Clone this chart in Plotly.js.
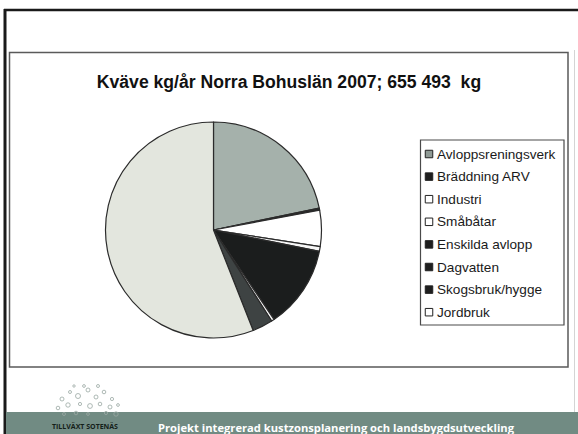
<!DOCTYPE html>
<html>
<head>
<meta charset="utf-8">
<script src="https://cdn.plot.ly/plotly-3.0.1.min.js"></script>
<style>
  html, body { margin: 0; padding: 0; background: #ffffff; }
  #chart { width: 578px; height: 434px; }
</style>
</head>
<body>
<div id="chart"></div>
<script>
// ---- data ----
const categories = ["Avloppsreningsverk", "Bräddning ARV", "Industri", "Småbåtar",
                    "Enskilda avlopp", "Dagvatten", "Skogsbruk/hygge", "Jordbruk"];
const valuesKg = [142600, 2000, 35400, 4700, 81000, 2750, 20050, 366993];
const sliceColors = ["#a5b1ab", "#262828", "#ffffff", "#f6f6f6",
                     "#1b1d1d", "#f2f2f2", "#3e4343", "#e3e6de"];
const legendColors = ["#8f9a95", "#1e1e1e", "#ffffff", "#ffffff",
                      "#1e1e1e", "#1e1e1e", "#1e1e1e", "#ffffff"];
const titleText = "Kväve kg/år Norra Bohuslän 2007; 655 493  kg";
const footerText = "Projekt integrerad kustzonsplanering och landsbygdsutveckling";
const logoText = "TILLVÄXT SOTENÄS";

// ---- layout helpers ----
const W = 578, H = 434;
const px = x => x / W;
const py = y => 1 - y / H;

const cx = 213.5, cy = 230, r = 108;

const pie = {
  type: "pie",
  labels: categories,
  values: valuesKg,
  sort: false,
  direction: "clockwise",
  rotation: 0,
  textinfo: "none",
  hoverinfo: "label+value+percent",
  showlegend: false,
  marker: { colors: sliceColors, line: { color: "#2b2b2b", width: 1.2 } },
  domain: { x: [px(cx - r), px(cx + r)], y: [py(cy + r), py(cy - r)] }
};

const shapes = [];
const annotations = [];

// outer slide frame
shapes.push({ type: "line", xref: "paper", yref: "paper", x0: px(5), x1: px(5), y0: py(9), y1: py(434),
  line: { color: "#1a1a1a", width: 3 } });
shapes.push({ type: "line", xref: "paper", yref: "paper", x0: px(4), x1: px(578), y0: py(10), y1: py(10),
  line: { color: "#1a1a1a", width: 2.5 } });
shapes.push({ type: "line", xref: "paper", yref: "paper", x0: px(574.5), x1: px(574.5), y0: py(50), y1: py(412),
  line: { color: "#d4d4d4", width: 1 } });

// chart area box
shapes.push({ type: "rect", xref: "paper", yref: "paper", x0: px(9.5), x1: px(568), y0: py(367), y1: py(52.5),
  line: { color: "#5a5a5a", width: 1.5 }, fillcolor: "rgba(0,0,0,0)" });

// legend box
shapes.push({ type: "rect", xref: "paper", yref: "paper", x0: px(420.5), x1: px(564), y0: py(325), y1: py(140),
  line: { color: "#4a4a4a", width: 1.2 }, fillcolor: "#ffffff" });

const legTop = 154, legStep = 22.6, mk = 7.5;
categories.forEach((c, i) => {
  const yy = legTop + i * legStep;
  shapes.push({ type: "rect", xref: "paper", yref: "paper",
    x0: px(429 - mk / 2), x1: px(429 + mk / 2), y0: py(yy + mk / 2), y1: py(yy - mk / 2),
    line: { color: "#222222", width: 1 }, fillcolor: legendColors[i] });
  annotations.push({ xref: "paper", yref: "paper", x: px(434.5), y: py(yy), xanchor: "left", yanchor: "middle",
    text: c, showarrow: false, font: { family: "Liberation Sans, Arial, sans-serif", size: 13.6, color: "#1a1a1a" } });
});

// footer band
shapes.push({ type: "rect", xref: "paper", yref: "paper", x0: px(6), x1: px(578), y0: py(434), y1: py(412),
  line: { width: 0 }, fillcolor: "#718b83" });
annotations.push({ xref: "paper", yref: "paper", x: px(336), y: py(427), xanchor: "center", yanchor: "middle",
  text: "<b>" + footerText + "</b>", showarrow: false,
  font: { family: "Open Sans, Noto Sans, sans-serif", size: 11.2, color: "#ffffff" } });
annotations.push({ xref: "paper", yref: "paper", x: px(85), y: py(426.5), xanchor: "center", yanchor: "middle",
  text: "<b>" + logoText + "</b>", showarrow: false,
  font: { family: "Open Sans, Noto Sans, sans-serif", size: 7, color: "#142019" } });

// small logo bubbles
const bubbles = [[62,399,2],[70,392,1.5],[78,396,2.5],[88,390,2],[96,397,2],[104,392,1.8],[112,399,1.6],
                 [58,408,1.8],[68,405,2.2],[80,404,1.6],[90,406,2.4],[100,404,1.8],[110,407,2],[118,405,1.4],
                 [84,386,1.4],[74,386,1.2],[98,386,1.5],[64,414,1.5],[76,413,1.8],[88,414,1.4],[106,413,1.6],[116,414,2.2]];
bubbles.forEach(b => shapes.push({ type: "circle", xref: "paper", yref: "paper",
  x0: px(b[0] - b[2]), x1: px(b[0] + b[2]), y0: py(b[1] + b[2]), y1: py(b[1] - b[2]),
  line: { color: "#9aa8a3", width: 0.8 }, fillcolor: "rgba(0,0,0,0)" }));

const layout = {
  width: W, height: H,
  margin: { l: 0, r: 0, t: 0, b: 0 },
  paper_bgcolor: "#ffffff",
  showlegend: false,
  title: {
    text: "<b>" + titleText + "</b>",
    x: px(289), xanchor: "center", xref: "paper",
    y: py(82), yanchor: "middle", yref: "paper",
    font: { family: "Liberation Sans, Arial, sans-serif", size: 17.6, color: "#111111" }
  },
  shapes: shapes,
  annotations: annotations
};

Plotly.newPlot("chart", [pie], layout, { displayModeBar: false, staticPlot: true });
</script>
</body>
</html>
